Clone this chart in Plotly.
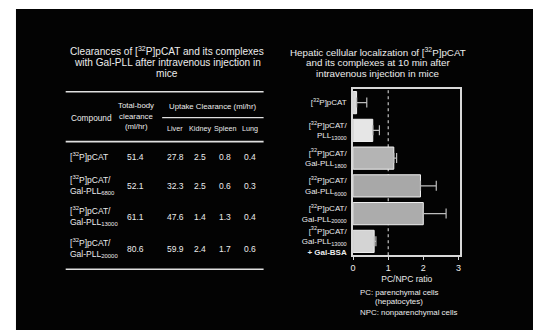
import plotly.graph_objects as go

W, H = 541, 330

# ---------------- data ----------------
table_compounds = [
    "[<sup>32</sup>P]pCAT",
    "[<sup>32</sup>P]pCAT/<br>Gal-PLL<sub>6800</sub>",
    "[<sup>32</sup>P]pCAT/<br>Gal-PLL<sub>13000</sub>",
    "[<sup>32</sup>P]pCAT/<br>Gal-PLL<sub>20000</sub>",
]
total_clearance = [51.4, 52.1, 61.1, 80.6]
liver = [27.8, 32.3, 47.6, 59.9]
kidney = [2.5, 2.5, 1.4, 2.4]
spleen = [0.8, 0.6, 1.3, 1.7]
lung = [0.4, 0.3, 0.4, 0.6]

chart_labels = [
    "[<sup>32</sup>P]pCAT",
    "[<sup>32</sup>P]pCAT/<br>PLL<sub>13000</sub>",
    "[<sup>32</sup>P]pCAT/<br>Gal-PLL<sub>1800</sub>",
    "[<sup>32</sup>P]pCAT/<br>Gal-PLL<sub>6000</sub>",
    "[<sup>32</sup>P]pCAT/<br>Gal-PLL<sub>20000</sub>",
    "[<sup>32</sup>P]pCAT/<br>Gal-PLL<sub>13000</sub><br><b>+ Gal-BSA</b>",
]
pc_npc_ratio = [0.10, 0.56, 1.16, 1.92, 2.00, 0.60]
ratio_err = [0.29, 0.19, 0.08, 0.45, 0.65, 0.05]
x_ticks = [0, 1, 2, 3]

# ---------------- helpers ----------------
OFF = 8  # page body margin


def px(x):
    return (x - OFF) / W


def py(y):
    return 1 - (y - OFF) / H


FONT = "Arial, Liberation Sans, sans-serif"
TXT = "#ececec"

fig = go.Figure()

bar_colors = ["#d8d8d8", "#e6e6e6", "#b4b4b4", "#a8a8a8", "#acacac", "#d4d4d4"]
fig.add_trace(go.Bar(
    x=pc_npc_ratio,
    y=chart_labels,
    orientation="h",
    marker=dict(color=bar_colors, line=dict(color="#f0f0f0", width=1)),
    width=0.8,
    error_x=dict(type="data", array=ratio_err, arrayminus=[0] * len(ratio_err),
                 symmetric=False, color="#bdbdbd", thickness=1.2, width=5),
    showlegend=False,
    hoverinfo="skip",
))

annotations = []
shapes = []

# black slide background
shapes.append(dict(type="rect", xref="paper", yref="paper", x0=px(13), x1=1.0,
                   y0=0, y1=py(9), fillcolor="#030303", line=dict(width=0), layer="below"))


def ann(text, x, y, size=8, xanchor="center", color=TXT):
    annotations.append(dict(text=text, x=px(x), y=py(y), xref="paper", yref="paper",
                            xanchor=xanchor, yanchor="middle", showarrow=False,
                            font=dict(family=FONT, size=size, color=color),
                            align="left" if xanchor == "left" else "center"))


# ---------------- table ----------------
for i, line in enumerate(["Clearances of [<sup>32</sup>P]pCAT and its complexes",
                          "with Gal-PLL after intravenous injection in",
                          "mice"]):
    ann(line, 165, 51.5 + i * 11.2, size=10.1)


def hline(x0, x1, y, w=1.6, color="#e0e0e0"):
    shapes.append(dict(type="line", xref="paper", yref="paper", x0=px(x0), x1=px(x1),
                       y0=py(y), y1=py(y), line=dict(color=color, width=w)))


hline(63, 262, 92)
hline(160, 262, 118, w=1.2)
hline(63, 262, 142)
hline(63, 262, 270)

ann("Compound", 66, 118, size=8.3, xanchor="left")
ann("Total-body", 134, 106, size=7.8)
ann("clearance", 134, 116.5, size=7.8)
ann("(ml/hr)", 134, 127, size=7.8)
ann("Uptake Clearance (ml/hr)", 211, 107, size=7.8)
col_x = [173, 198, 223, 248]
for name, cx in zip(["Liver", "Kidney", "Spleen", "Lung"], col_x):
    ann(name, cx, 129, size=7.2)

row_y = [157, 187, 218, 250]
for i, comp in enumerate(table_compounds):
    ann(comp, 65, row_y[i] if i == 0 else row_y[i] - 1, size=8.5, xanchor="left")
    ann(f"{total_clearance[i]:.1f}", 133, row_y[i], size=8.5)
    for vals, cx in zip([liver, kidney, spleen, lung], col_x):
        ann(f"{vals[i]:.1f}", cx, row_y[i], size=8.5)

# ---------------- chart ----------------
for i, line in enumerate(["Hepatic cellular localization of [<sup>32</sup>P]pCAT",
                          "and its complexes at 10 min after",
                          "intravenous injection in mice"]):
    ann(line, 377, 52.5 + i * 10.6, size=9.8)

# dashed reference line at ratio 1
shapes.append(dict(type="line", xref="x", yref="paper", x0=1, x1=1,
                   y0=py(256), y1=py(89), line=dict(color="#e8e8e8", width=1, dash="dot"),
                   layer="below"))

ann("PC: parenchymal cells", 357, 293, size=7.9, xanchor="left")
ann("(hepatocytes)", 372, 302, size=7.9, xanchor="left")
ann("NPC: nonparenchymal cells", 357, 313, size=7.9, xanchor="left")

fig.update_layout(
    width=W, height=H,
    margin=dict(l=0, r=0, t=0, b=0),
    paper_bgcolor="white",
    plot_bgcolor="rgba(0,0,0,0)",
    font=dict(family=FONT, color=TXT),
    bargap=0.2,
    annotations=annotations,
    shapes=shapes,
    xaxis=dict(domain=[px(352), px(460)], range=[0, 3.06], tickvals=x_ticks,
               showgrid=False, zeroline=False, showline=True, mirror=True,
               linecolor="#d8d8d8", linewidth=1.5, ticks="outside", ticklen=3,
               tickcolor="#d8d8d8", tickfont=dict(size=9, color=TXT, family=FONT),
               title=dict(text="PC/NPC ratio", font=dict(size=8.5, color=TXT, family=FONT), standoff=4),
               fixedrange=True),
    yaxis=dict(domain=[py(256), py(89)], autorange="reversed", showgrid=False,
               zeroline=False, showline=True, mirror=True, linecolor="#d8d8d8",
               linewidth=1.5, ticks="", tickfont=dict(size=8, color=TXT, family=FONT),
               ticklabelstandoff=3, fixedrange=True),
)

fig.write_html("out.html")
